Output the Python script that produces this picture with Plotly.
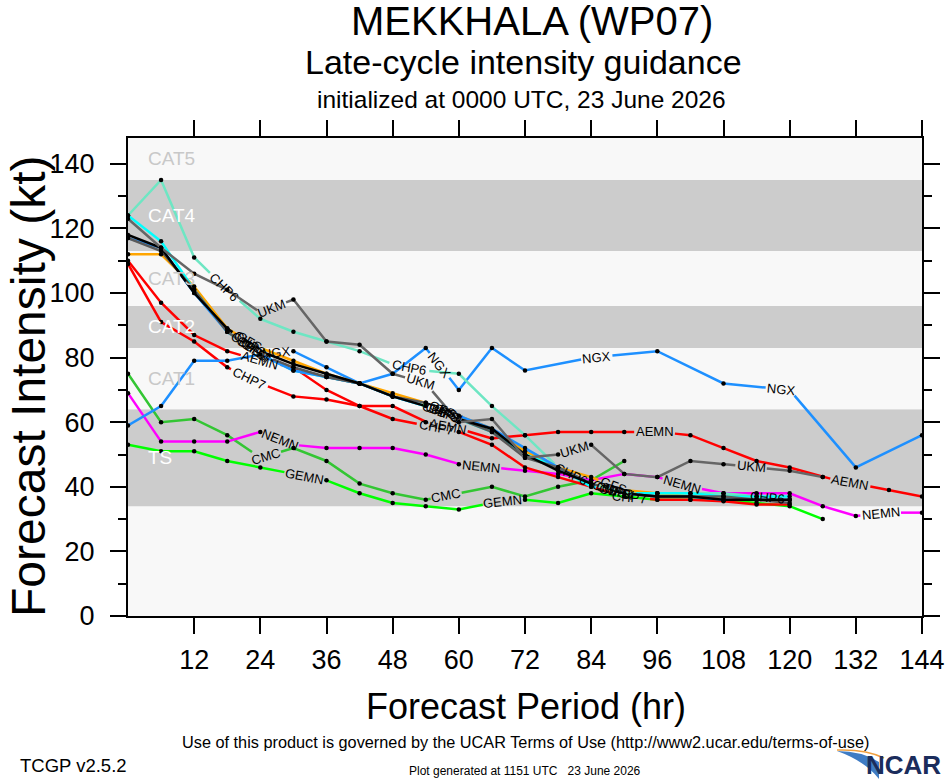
import math
import plotly.graph_objects as go

# ---- figure geometry (pixels)
W, H = 946, 780
ML, MR, MT, MB = 128, 24, 138, 164
X_RANGE = [0, 144]
Y_RANGE = [0, 148]
FONT = "Liberation Sans, Arial, Helvetica, sans-serif"

# ---- intensity bands (kt)
band_edges = [0, 34, 64, 83, 96, 113, 135, 148]
band_names = ["", "TS", "CAT1", "CAT2", "CAT3", "CAT4", "CAT5"]

x_ticks = [12, 24, 36, 48, 60, 72, 84, 96, 108, 120, 132, 144]
y_ticks = [0, 20, 40, 60, 80, 100, 120, 140]

# ---- model guidance (forecast hour, kt)
ngx_hr = [0, 6, 12, 18, 24, 30, 36, 42, 48, 54, 60, 66, 72, 84, 96, 108, 120, 132, 144]
ngx_kt = [59, 65, 79, 79, 81, 82, 77, 72, 75, 83, 70, 83, 76, 80, 82, 72, 70, 46, 56]

chp6_hr = [0, 6, 12, 18, 24, 30, 36, 42, 48, 54, 60, 66, 72, 78, 84, 90, 96, 102, 108, 114, 120]
chp6_kt = [124, 135, 111, 101, 92, 88, 85, 82, 78, 76, 75, 65, 56, 46, 41, 38, 38, 38, 38, 37, 36]

ukm_hr = [0, 6, 12, 18, 24, 30, 36, 42, 48, 54, 60, 66, 72, 78, 84, 90, 96, 102, 108, 114, 120, 126]
ukm_kt = [123, 114, 106, 101, 94, 98, 85, 84, 75, 72, 60, 61, 49, 50, 53, 44, 43, 48, 47, 46, 45, 43]

aemn_hr = list(range(0, 145, 6))
aemn_kt = [110, 97, 87, 82, 79, 77, 70, 65, 65, 60, 58, 55, 56, 57, 57, 57, 57, 56, 52, 48, 46, 43, 41, 39, 37]

chp7_hr = list(range(0, 121, 6))
chp7_kt = [109, 91, 85, 77, 72, 68, 67, 65, 61, 59, 57, 53, 46, 43, 40, 37, 36, 36, 35.5, 34.5, 34.5]

nemn_hr = list(range(0, 145, 6))
nemn_kt = [69, 54, 54, 54, 57, 53, 52, 52, 52, 50, 47, 46, 45, 44, 42, 44, 43, 40, 38, 38, 38, 34, 31, 32, 32]

cmc_hr = list(range(0, 91, 6))
cmc_kt = [75, 60, 61, 56, 49, 52, 48, 41, 38, 36, 38, 40, 37, 40, 42, 48]

gemn_hr = list(range(0, 127, 6))
gemn_kt = [53, 51, 51, 48, 46, 44, 42, 38, 35, 34, 33, 35, 36, 35, 38, 37, 36, 36, 36, 35, 34, 30]

gfs_hr = list(range(0, 115, 6))
gfs_kt = [112, 112, 102, 89, 83, 79, 75, 72, 69, 66, 62, 58, 51, 46, 43, 39, 38, 37, 37, 37]

cbp3_hr = list(range(0, 121, 6))
cbp3_kt = [124, 116, 101, 88, 81, 76, 74, 72, 68, 65, 61, 57, 50, 46, 40, 38, 38, 38, 37, 37, 37]

cbps_hr = list(range(0, 121, 6))
cbps_kt = [117, 114, 100, 88, 81, 76, 74, 72, 68, 65, 62, 58, 52, 46, 41, 38, 37, 37, 36, 36, 36]

gfsi_hr = list(range(0, 121, 6))
gfsi_kt = [117, 113, 101, 88, 81, 77, 74, 72, 68, 66, 61, 57, 49, 46, 41, 38, 37, 37, 37, 36, 35]

chp3_hr = list(range(0, 121, 6))
chp3_kt = [118, 114, 100, 89, 82, 78, 75, 72, 68, 65, 61, 58, 50, 45, 41, 38, 37, 37, 36, 36, 36]

# name, hours, kt, colour, hours where the name is written on the line
series = [
    ("GEMN", gemn_hr, gemn_kt, "#00ff00", [32, 68]),
    ("CMC", cmc_hr, cmc_kt, "#33c633", [25, 57.7]),
    ("NEMN", nemn_hr, nemn_kt, "#ff00ff", [27.5, 64, 100.5, 136.5]),
    ("CHP7", chp7_hr, chp7_kt, "#ff0000", [22, 56, 91]),
    ("AEMN", aemn_hr, aemn_kt, "#ff0000", [24, 58, 95.5, 131]),
    ("NGX", ngx_hr, ngx_kt, "#1e90ff", [27, 56.5, 85, 118.5]),
    ("CHP6", chp6_hr, chp6_kt, "#6ee6c3", [17.5, 51, 80.5, 116]),
    ("GFS", gfs_hr, gfs_kt, "#ffa500", [22, 57, 88]),
    ("CBP3", cbp3_hr, cbp3_kt, "#00ffff", [22.5, 57.5, 88.5]),
    ("CBPS", cbps_hr, cbps_kt, "#1e90ff", [21.5, 56.5, 87.5]),
    ("GFSI", gfsi_hr, gfsi_kt, "#5a5a5a", [23, 58, 89]),
    ("CHP3", chp3_hr, chp3_kt, "#000000", [22, 57, 88]),
    ("UKM", ukm_hr, ukm_kt, "#666666", [26, 53, 81, 113]),
]

PW, PH = W - ML - MR, H - MT - MB
sx = PW / (X_RANGE[1] - X_RANGE[0])
sy = PH / (Y_RANGE[1] - Y_RANGE[0])


def px(x):
    return (x - ML) / PW


def py(y):
    return (H - MB - y) / PH


def split_for_labels(hrs, kts, lab_hrs, text):
    """break the line where the model name is written on it"""
    xs = [h * sx for h in hrs]
    ys = [-k * sy for k in kts]
    cum = [0.0]
    for i in range(1, len(hrs)):
        cum.append(cum[-1] + math.hypot(xs[i] - xs[i - 1], ys[i] - ys[i - 1]))

    def at(s):
        for i in range(1, len(cum)):
            if s <= cum[i] or i == len(cum) - 1:
                seg = cum[i] - cum[i - 1]
                t = 0 if seg == 0 else (s - cum[i - 1]) / seg
                t = min(max(t, 0), 1)
                return (hrs[i - 1] + t * (hrs[i] - hrs[i - 1]),
                        kts[i - 1] + t * (kts[i] - kts[i - 1]))

    half = 0.5 * len(text) * 9.2 + 2
    gaps, notes = [], []
    for lh in lab_hrs:
        i = 1
        while i < len(hrs) - 1 and hrs[i] < lh:
            i += 1
        t = (lh - hrs[i - 1]) / (hrs[i] - hrs[i - 1])
        s = cum[i - 1] + t * (cum[i] - cum[i - 1])
        gaps.append((s - half, s + half))
        ang = math.degrees(math.atan2(ys[i] - ys[i - 1], xs[i] - xs[i - 1]))
        lx, ly = at(s)
        notes.append(dict(x=lx, y=ly, text=text, textangle=ang))

    gaps.sort()
    keep = []
    a = 0.0
    for g0, g1 in gaps:
        keep.append((a, g0))
        a = g1
    keep.append((a, cum[-1]))

    lx_out, ly_out = [], []
    for a, b in keep:
        if b <= a:
            continue
        p = at(a)
        lx_out.append(p[0]); ly_out.append(p[1])
        for i, s in enumerate(cum):
            if a < s < b:
                lx_out.append(hrs[i]); ly_out.append(kts[i])
        p = at(b)
        lx_out.append(p[0]); ly_out.append(p[1])
        lx_out.append(None); ly_out.append(None)

    mx, my = [], []
    for i, s in enumerate(cum):
        if not any(g0 < s < g1 for g0, g1 in gaps):
            mx.append(hrs[i]); my.append(kts[i])
    return lx_out, ly_out, mx, my, notes


fig = go.Figure()
annotations = []
dots_x, dots_y = [], []

for name, hrs, kts, color, lab in series:
    lx, ly, mx, my, notes = split_for_labels(hrs, kts, lab, name)
    fig.add_trace(go.Scatter(x=lx, y=ly, mode="lines", line=dict(color=color, width=2.5),
                             connectgaps=False, hoverinfo="skip", showlegend=False))
    dots_x += mx
    dots_y += my
    for n in notes:
        annotations.append(dict(x=n["x"], y=n["y"], xref="x", yref="y", text=n["text"],
                                textangle=n["textangle"], showarrow=False,
                                font=dict(family=FONT, size=13, color="black"),
                                xanchor="center", yanchor="middle"))

fig.add_trace(go.Scatter(x=dots_x, y=dots_y, mode="markers",
                         marker=dict(color="black", size=4.5), hoverinfo="skip", showlegend=False))

# bands and their names
shapes = []
for i in range(len(band_edges) - 1):
    gray = i % 2 == 1
    shapes.append(dict(type="rect", xref="paper", yref="y", x0=0, x1=1,
                       y0=band_edges[i], y1=band_edges[i + 1], layer="below", line_width=0,
                       fillcolor="#cccccc" if gray else "#f8f8f8"))
    if band_names[i]:
        annotations.append(dict(x=3.3, y=(band_edges[i] + band_edges[i + 1]) / 2, xref="x", yref="y",
                                text=band_names[i], showarrow=False, xanchor="left", yanchor="middle",
                                font=dict(family=FONT, size=19, color="white" if gray else "#c8c8c8")))


def page_text(x, y, text, size, anchor="center", color="black", angle=0, bold=False):
    if bold:
        text = "<b>" + text + "</b>"
    annotations.append(dict(x=px(x), y=py(y), xref="paper", yref="paper", text=text,
                            showarrow=False, xanchor=anchor, yanchor="middle", textangle=angle,
                            font=dict(family=FONT, size=size, color=color)))


page_text(532, 21, "MEKKHALA (WP07)", 40)
page_text(523, 62, "Late-cycle intensity guidance", 34)
page_text(521, 99, "initialized at 0000 UTC, 23 June 2026", 24.5)
page_text(28, 387, "Forecast Intensity (kt)", 48, angle=-90)
page_text(526, 706, "Forecast Period (hr)", 36)
page_text(525, 742, "Use of this product is governed by the UCAR Terms of Use (http://www2.ucar.edu/terms-of-use)", 16.3)
page_text(18, 765, "TCGP v2.5.2", 18.5, anchor="left")
page_text(525, 771, "Plot generated at 1151 UTC\u00a0\u00a0\u00a023 June 2026", 12)
page_text(943, 765, "NCAR", 26, anchor="right", color="#1b2d5c", bold=True)

# swoosh of the NCAR logo
swoosh = "M {} {} Q {} {} {} {} L {} {} Q {} {} {} {} Z".format(
    px(837), py(751), px(862), py(751), px(879), py(762), px(879), py(779),
    px(865), py(761), px(837), py(751))
shapes.append(dict(type="path", xref="paper", yref="paper", path=swoosh,
                   fillcolor="#3f7cc4", line=dict(width=0), layer="above"))
arc = "M {} {} Q {} {} {} {}".format(px(837), py(750), px(866), py(749), px(884), py(758))
shapes.append(dict(type="path", xref="paper", yref="paper", path=arc,
                   line=dict(color="#f0a040", width=1.5), layer="above"))

axis_common = dict(showline=True, linewidth=2, linecolor="black", mirror="ticks",
                   ticks="outside", ticklen=16, tickwidth=2, tickcolor="black",
                   showgrid=False, zeroline=False, automargin=False,
                   tickfont=dict(family=FONT, size=27, color="black"))

fig.update_layout(
    width=W, height=H, autosize=False,
    margin=dict(l=ML, r=MR, t=MT, b=MB, pad=0, autoexpand=False),
    paper_bgcolor="white", plot_bgcolor="#f8f8f8",
    showlegend=False,
    xaxis=dict(range=X_RANGE, tickvals=x_ticks, ticktext=[str(v) for v in x_ticks],
               ticklabelstandoff=3, **axis_common),
    yaxis=dict(range=Y_RANGE, tickvals=y_ticks, ticktext=[str(v) for v in y_ticks],
               ticklabelstandoff=10,
               minor=dict(dtick=10, tick0=0, ticks="outside", ticklen=8, tickwidth=2,
                          tickcolor="black", showgrid=False),
               **axis_common),
    shapes=shapes,
    annotations=annotations,
)

fig.write_html("out.html",
               config={"displayModeBar": False, "responsive": False},
               post_script="document.body.style.margin='0px';document.body.style.overflow='hidden';")
